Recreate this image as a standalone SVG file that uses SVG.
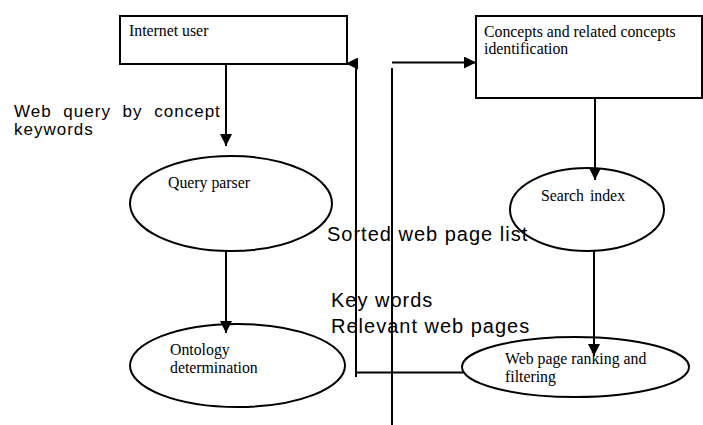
<svg xmlns="http://www.w3.org/2000/svg" width="703" height="425" viewBox="0 0 703 425">
<style>
.box{fill:#fff;stroke:#000;stroke-width:2}
.nt{font-family:"Liberation Serif","Times New Roman",serif;font-size:15.8px;fill:#000}
.lb{font-family:"Liberation Sans",Arial,sans-serif;font-size:20px;letter-spacing:1px;fill:#000}
.lq{font-family:"Liberation Sans",Arial,sans-serif;font-size:17px;letter-spacing:1px;fill:#000}
.cn{fill:none;stroke:#000;stroke-width:2}
</style>
<defs>
<marker id="ah" markerUnits="userSpaceOnUse" markerWidth="12" markerHeight="12" refX="10" refY="5" orient="auto" viewBox="0 0 10 10">
<path d="M0,0 L10,5 L0,10 z" fill="#000"/>
</marker>
</defs>
<rect width="703" height="425" fill="#fff"/>
<g id="internet-user">
<rect class="box" x="120" y="16" width="227" height="48"/>
<text class="nt" x="129" y="36">Internet user</text>
</g>
<g id="concepts-identification">
<rect class="box" x="476" y="16" width="226" height="82"/>
<text class="nt" x="484" y="37">Concepts and related concepts</text>
<text class="nt" x="484" y="54">identification</text>
</g>
<g id="query-parser">
<ellipse class="box" cx="231" cy="203.5" rx="101" ry="47.5"/>
<text class="nt" x="168" y="188">Query parser</text>
</g>
<g id="search-index">
<ellipse class="box" cx="587" cy="209.5" rx="77" ry="41.5"/>
<text class="nt" x="541" y="201" word-spacing="2">Search index</text>
</g>
<g id="ontology-determination">
<ellipse class="box" cx="237.5" cy="365.5" rx="107.5" ry="41.5"/>
<text class="nt" x="170" y="355">Ontology</text>
<text class="nt" x="170" y="373">determination</text>
</g>
<g id="web-page-ranking">
<ellipse class="box" cx="575.5" cy="367" rx="113.5" ry="30"/>
<text class="nt" x="505" y="364">Web page ranking and</text>
<text class="nt" x="505" y="382">filtering</text>
</g>
<g id="connectors">
<path class="cn" d="M226 64 V146" marker-end="url(#ah)"/>
<path class="cn" d="M226 251 V333" marker-end="url(#ah)"/>
<path class="cn" d="M595 98 V180" marker-end="url(#ah)"/>
<path class="cn" d="M594 251 V356" marker-end="url(#ah)"/>
<path class="cn" d="M463 372.5 H356"/>
<path class="cn" d="M356 377 V63.5 H346" marker-end="url(#ah)"/>
<path class="cn" d="M392 62.5 H476" marker-end="url(#ah)"/>
<path class="cn" d="M392 68 V425"/>
</g>
<g id="labels">
<text class="lq" x="14" y="117" word-spacing="6">Web query by concept</text>
<text class="lq" x="14" y="135">keywords</text>
<text class="lb" x="327" y="241">Sorted web page list</text>
<text class="lb" x="331" y="307">Key words</text>
<text class="lb" x="331" y="333">Relevant web pages</text>
</g>
</svg>
